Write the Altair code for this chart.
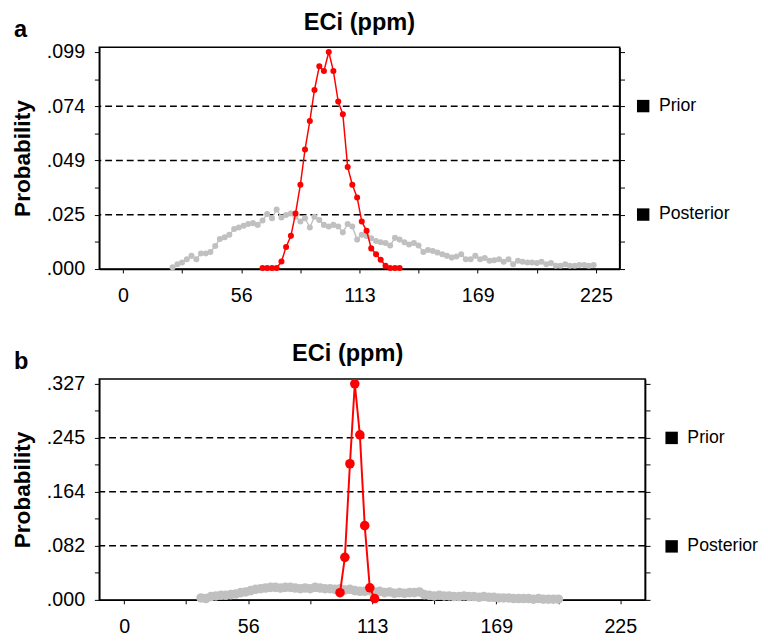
import altair as alt
import pandas as pd

# ---------------- data ----------------
X_TICKS = [0, 28.125, 56.25, 84.375, 112.5, 140.625, 168.75, 196.875, 225]
SERIES = ["Prior", "Posterior"]
TITLE = "ECi (ppm)"

# Panel a: prior (grey)
prior_a_x = [23.6, 25.9, 28.1, 30.4, 32.6, 34.9, 37.1, 39.4, 41.6, 43.9,
             46.1, 48.4, 50.6, 52.9, 55.1, 57.4, 59.6, 61.9, 64.1, 66.4,
             68.6, 70.9, 73.1, 75.4, 77.6, 79.9, 82.1, 84.4, 86.6, 88.9,
             91.1, 93.4, 95.6, 97.9, 100.1, 102.4, 104.6, 106.9, 109.1, 111.4,
             113.6, 115.9, 118.1, 120.4, 122.6, 124.9, 127.1, 129.4, 131.6, 133.9,
             136.1, 138.4, 140.6, 142.9, 145.1, 147.4, 149.6, 151.9, 154.1, 156.4,
             158.6, 160.9, 163.1, 165.4, 167.6, 169.9, 172.1, 174.4, 176.6, 178.9,
             181.1, 183.4, 185.6, 187.9, 190.1, 192.4, 194.6, 196.9, 199.1, 201.4,
             203.6, 205.9, 208.1, 210.4, 212.6, 214.9, 217.1, 219.4, 221.6, 223.9]
prior_a_y = [0.0008, 0.0022, 0.0030, 0.0045, 0.0060, 0.0045, 0.0071, 0.0071, 0.0078, 0.0105,
             0.0137, 0.0145, 0.0156, 0.0182, 0.0189, 0.0197, 0.0205, 0.0209, 0.0201, 0.0221,
             0.0250, 0.0231, 0.0271, 0.0235, 0.0246, 0.0253, 0.0238, 0.0216, 0.0231, 0.0189,
             0.0238, 0.0223, 0.0201, 0.0194, 0.0201, 0.0194, 0.0167, 0.0205, 0.0194, 0.0134,
             0.0156, 0.0150, 0.0140, 0.0128, 0.0122, 0.0119, 0.0107, 0.0142, 0.0134, 0.0122,
             0.0112, 0.0119, 0.0107, 0.0078, 0.0087, 0.0082, 0.0075, 0.0067, 0.0060, 0.0052,
             0.0057, 0.0067, 0.0045, 0.0045, 0.0060, 0.0045, 0.0050, 0.0038, 0.0040, 0.0045,
             0.0033, 0.0045, 0.0022, 0.0038, 0.0033, 0.0030, 0.0030, 0.0027, 0.0033, 0.0022,
             0.0027, 0.0015, 0.0015, 0.0022, 0.0015, 0.0015, 0.0018, 0.0018, 0.0015, 0.0018]

# Panel a: posterior (red)
post_a_x = [66.4, 68.6, 70.9, 73.1, 75.4, 77.6, 79.9, 82.1, 84.4, 86.6,
            88.9, 91.1, 93.4, 95.6, 97.9, 100.1, 102.4, 104.6, 106.9, 109.1,
            111.4, 113.6, 115.9, 118.1, 120.4, 122.6, 124.9, 127.1, 129.4, 131.6]
post_a_y = [0.0005, 0.0005, 0.0005, 0.0005, 0.0034, 0.0100, 0.0151, 0.0253, 0.0384, 0.0544,
            0.0674, 0.0815, 0.0923, 0.0901, 0.0988, 0.0901, 0.0762, 0.0704, 0.0464, 0.0384,
            0.0326, 0.0216, 0.0174, 0.0094, 0.0067, 0.0042, 0.0015, 0.0005, 0.0005, 0.0005]

# Panel b: prior (grey)
prior_b_x = [34.9, 37.1, 39.4, 41.6, 43.9, 46.1, 48.4, 50.6, 52.9, 55.1,
             57.4, 59.6, 61.9, 64.1, 66.4, 68.6, 70.9, 73.1, 75.4, 77.6,
             79.9, 82.1, 84.4, 86.6, 88.9, 91.1, 93.4, 95.6, 97.9, 100.1,
             102.4, 104.6, 106.9, 109.1, 111.4, 113.6, 115.9, 118.1, 120.4, 122.6,
             124.9, 127.1, 129.4, 131.6, 133.9, 136.1, 138.4, 140.6, 142.9, 145.1,
             147.4, 149.6, 151.9, 154.1, 156.4, 158.6, 160.9, 163.1, 165.4, 167.6,
             169.9, 172.1, 174.4, 176.6, 178.9, 181.1, 183.4, 185.6, 187.9, 190.1,
             192.4, 194.6, 196.9]
prior_b_y = [0.003, 0.002, 0.005, 0.006, 0.007, 0.007, 0.008, 0.009, 0.011, 0.012,
             0.014, 0.016, 0.017, 0.018, 0.019, 0.019, 0.018, 0.019, 0.019, 0.018,
             0.017, 0.018, 0.017, 0.019, 0.018, 0.017, 0.017, 0.016, 0.017, 0.015,
             0.016, 0.014, 0.013, 0.013, 0.014, 0.012, 0.013, 0.011, 0.012, 0.010,
             0.011, 0.010, 0.011, 0.011, 0.012, 0.008, 0.007, 0.006, 0.007, 0.006,
             0.006, 0.005, 0.005, 0.006, 0.005, 0.005, 0.004, 0.005, 0.004, 0.004,
             0.003, 0.003, 0.003, 0.002, 0.002, 0.002, 0.002, 0.001, 0.002, 0.001,
             0.001, 0.001, 0.001]

# Panel b: posterior (red)
post_b_x = [97.9, 100.1, 102.4, 104.6, 106.9, 109.1, 111.4, 113.6]
post_b_y = [0.0109, 0.0644, 0.2061, 0.3272, 0.2498, 0.1124, 0.0183, 0.0020]

# axis maxima (top labelled tick)
YMAX_A = 0.0988
YMAX_B = 0.3272

FONT = "Liberation Sans"
GREY = "#c0c0c0"
RED = "#ff0000"


def panel(letter, px, py, qx, qy, ymax, width, height, psize, grey_w, red_w,
          title_dx, legend_dx):
    df = pd.DataFrame({
        "ECi": px + qx,
        "p": py + qy,
        "series": ["Prior"] * len(px) + ["Posterior"] * len(qx),
    })
    top = ymax * 1.022
    step = ymax / 8
    yvals = [step * i for i in range(9)]
    grid_df = pd.DataFrame({"p": [ymax / 4, ymax / 2, 3 * ymax / 4]})
    legend_df = pd.DataFrame({"series": SERIES})
    letter_df = pd.DataFrame({"t": [letter]})
    title_df = pd.DataFrame({"t": [TITLE]})

    xscale = alt.Scale(domain=[-11.25, 236.25], nice=False, zero=False)
    yscale = alt.Scale(domain=[0, top], nice=False, zero=True)
    ylab = (f"round(datum.value / {step}) % 2 == 0 ? "
            "substring(format(datum.value, '.3f'), 1) : ''")

    x_enc = alt.X("ECi:Q", scale=xscale, axis=alt.Axis(
        values=X_TICKS, title=None, grid=False,
        labelExpr="datum.value % 56.25 == 0 ? format(datum.value, '.0f') : ''",
        tickSize=4, labelPadding=13, labelFontSize=20, labelFont=FONT,
        labelColor="black", domainColor="black", tickColor="black",
        domainWidth=1.5, labelFlush=False, labelOverlap=False))
    y_enc = alt.Y("p:Q", scale=yscale, axis=alt.Axis(
        values=yvals, title="Probability", grid=False, labelExpr=ylab,
        tickSize=5, labelPadding=10, labelFontSize=20, labelFont=FONT,
        labelColor="black", domainColor="black", tickColor="black",
        domainWidth=1.5, titleFont=FONT, titleFontSize=23,
        titleFontWeight="bold", titleColor="black", titlePadding=12,
        labelFlush=False, labelOverlap=False))
    y_plain = alt.Y("p:Q", axis=None)

    base = alt.Chart(df)
    prior = base.transform_filter(alt.datum.series == "Prior")
    post = base.transform_filter(alt.datum.series == "Posterior")

    prior_line = prior.mark_line(color=GREY, strokeWidth=grey_w).encode(x=x_enc, y=y_enc)
    prior_pts = prior.mark_circle(color=GREY, size=psize, opacity=1).encode(x=x_enc, y=y_plain)
    post_line = post.mark_line(color=RED, strokeWidth=red_w).encode(x=x_enc, y=y_plain)
    post_pts = post.mark_circle(color=RED, size=psize, opacity=1).encode(x=x_enc, y=y_plain)

    grid = alt.Chart(grid_df).mark_rule(
        color="black", strokeWidth=1.5, strokeDash=[7, 4]
    ).encode(y=alt.Y("p:Q", axis=alt.Axis(
        orient="right", values=yvals, labels=False, title=None, grid=False,
        tickSize=5, domainColor="black", tickColor="black", domainWidth=1.5)))

    legend_layer = alt.Chart(legend_df).mark_point(
        filled=True, size=0, color="black", opacity=1
    ).encode(
        x=alt.value(0), y=alt.value(0),
        shape=alt.Shape("series:N", sort=SERIES, scale=alt.Scale(
            domain=SERIES, range=["square", "square"]), legend=alt.Legend(
            title=None, orient="none", legendX=width + legend_dx, legendY=51,
            symbolType="square", symbolSize=160, symbolFillColor="black",
            symbolOpacity=1, symbolStrokeWidth=0, labelFontSize=18,
            labelFont=FONT, labelColor="black", labelOffset=7,
            rowPadding=92.5, padding=0)))

    letter_layer = alt.Chart(letter_df).mark_text(
        font=FONT, fontSize=24, fontWeight="bold", align="left",
        baseline="alphabetic", color="black"
    ).encode(text="t:N", x=alt.value(-87), y=alt.value(-10))

    title_layer = alt.Chart(title_df).mark_text(
        font=FONT, fontSize=24, fontWeight="bold", align="center",
        baseline="alphabetic", color="black"
    ).encode(text="t:N", x=alt.value(width / 2 + title_dx), y=alt.value(-18))

    return alt.layer(
        grid, prior_line, prior_pts, post_line, post_pts, legend_layer,
        letter_layer, title_layer
    ).resolve_axis(y="independent").properties(width=width, height=height)


pa = panel("a", prior_a_x, prior_a_y, post_a_x, post_a_y, YMAX_A,
           530, 226, 38, 1.4, 1.5, 0, 15)
pb = panel("b", prior_b_x, prior_b_y, post_b_x, post_b_y, YMAX_B,
           556, 225, 95, 4, 2, -25, 18)

chart = alt.vconcat(pa, pb, spacing=36).resolve_scale(
    shape="independent"
).resolve_legend(shape="independent").configure_view(
    stroke="black", strokeWidth=1.5
).properties(padding={"left": 3, "top": -4, "right": 0, "bottom": 0})

chart.save("out.html", embed_options={"renderer": "svg", "actions": False})
